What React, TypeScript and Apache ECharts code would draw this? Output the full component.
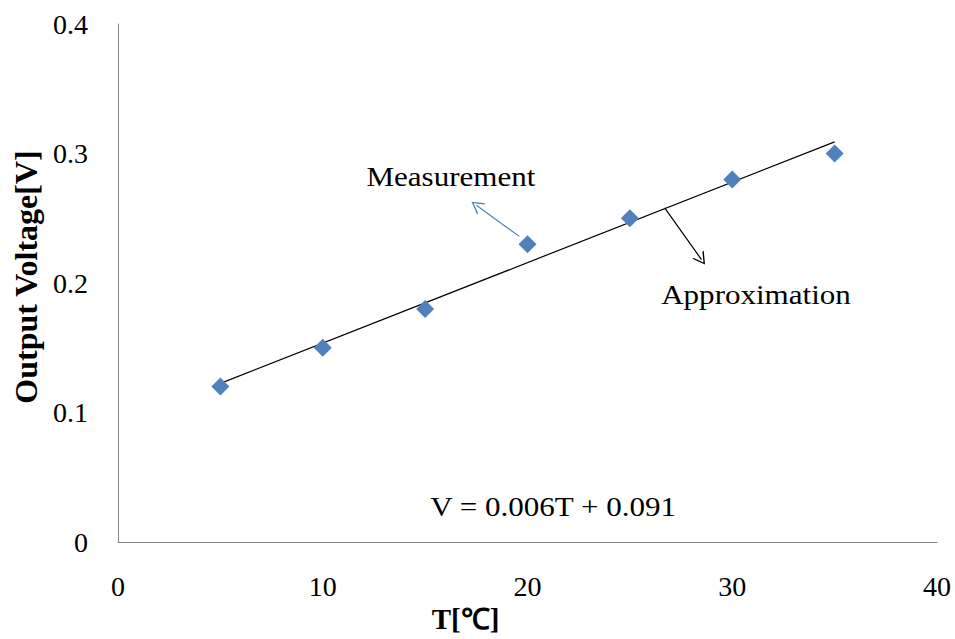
import React, { useEffect, useRef } from "react";
import * as echarts from "echarts";

const temperatures = [5, 10, 15, 20, 25, 30, 35];
const voltages = [0.12, 0.15, 0.18, 0.23, 0.25, 0.28, 0.3];
const trendX = [5, 35];
const trendY = [0.1225, 0.309];
const equationText = "V = 0.006T + 0.091";
const measurementArrow = [[19.6, 0.236], [17.5, 0.26]];
const approxArrow = [[26.7, 0.258], [28.5, 0.218]];
const measurementLabelPos = [16.26, 0.282];
const approxLabelPos = [31.16, 0.191];
const equationPos = [21.25, 0.027];

const FONT = "'Liberation Serif', 'Times New Roman', serif";
const chevron = "path://M5,0 L10,10 L8.8,10 L5,2.2 L1.2,10 L0,10 Z";

export default function App() {
  const ref = useRef<HTMLDivElement>(null);
  useEffect(() => {
    if (!ref.current) return;
    const chart = echarts.init(ref.current, null, { renderer: "svg" });
    const scatterData = temperatures.map((t, i) => [t, voltages[i]]);
    const trendData = trendX.map((t, i) => [t, trendY[i]]);
    chart.setOption({
      animation: false,
      backgroundColor: "#ffffff",
      grid: { left: 118, right: 18, top: 24, bottom: 97 },
      xAxis: {
        type: "value",
        min: 0,
        max: 40,
        interval: 10,
        name: "T[℃]",
        nameLocation: "middle",
        nameGap: 50,
        nameTextStyle: {
          fontFamily: FONT,
          fontSize: 29,
          fontWeight: "bold",
          color: "#000",
          padding: [0, 124, 0, 0],
        },
        axisLine: { show: true, lineStyle: { color: "#868686", width: 1 } },
        axisTick: { show: false },
        splitLine: { show: false },
        axisLabel: { fontFamily: FONT, fontSize: 28, color: "#000", margin: 30 },
      },
      yAxis: {
        type: "value",
        min: 0,
        max: 0.4,
        interval: 0.1,
        name: "Output Voltage[V]",
        nameLocation: "middle",
        nameGap: 72,
        nameRotate: 90,
        nameTextStyle: {
          fontFamily: FONT,
          fontSize: 32,
          fontWeight: "bold",
          color: "#000",
          padding: [0, 0, 0, 12],
        },
        axisLine: { show: true, lineStyle: { color: "#868686", width: 1 } },
        axisTick: { show: false },
        splitLine: { show: false },
        axisLabel: { fontFamily: FONT, fontSize: 28, color: "#000", margin: 30 },
      },
      series: [
        {
          type: "line",
          data: trendData,
          symbol: "none",
          lineStyle: { color: "#000", width: 1.2 },
          z: 3,
        },
        {
          type: "scatter",
          data: scatterData,
          symbol: "diamond",
          symbolSize: 18,
          itemStyle: { color: "#4f81bd", opacity: 1 },
          z: 4,
          markLine: {
            silent: true,
            symbol: ["none", chevron],
            symbolSize: [14, 12],
            label: { show: false },
            data: [
              [
                { coord: measurementArrow[0], lineStyle: { color: "#4f81bd", width: 1.2, type: "solid" } },
                { coord: measurementArrow[1] },
              ],
              [
                { coord: approxArrow[0], lineStyle: { color: "#000", width: 1.2, type: "solid" } },
                { coord: approxArrow[1] },
              ],
            ],
          },
        },
      ],
    });
    const p = (c: number[]) => chart.convertToPixel({ gridIndex: 0 }, c) as number[];
    const m = p(measurementLabelPos);
    const a = p(approxLabelPos);
    const e = p(equationPos);
    const txt = (pos: number[], text: string) => ({
      type: "text",
      x: pos[0],
      y: pos[1],
      scaleX: 1.15,
      style: {
        text,
        fontFamily: FONT,
        fontSize: 27,
        fill: "#000",
        align: "center",
        verticalAlign: "middle",
      },
    });
    chart.setOption({
      graphic: [txt(m, "Measurement"), txt(a, "Approximation"), txt(e, equationText)],
    });
    return () => chart.dispose();
  }, []);
  return <div ref={ref} style={{ width: 955, height: 639, position: "absolute", left: 0, top: 0 }} />;
}
